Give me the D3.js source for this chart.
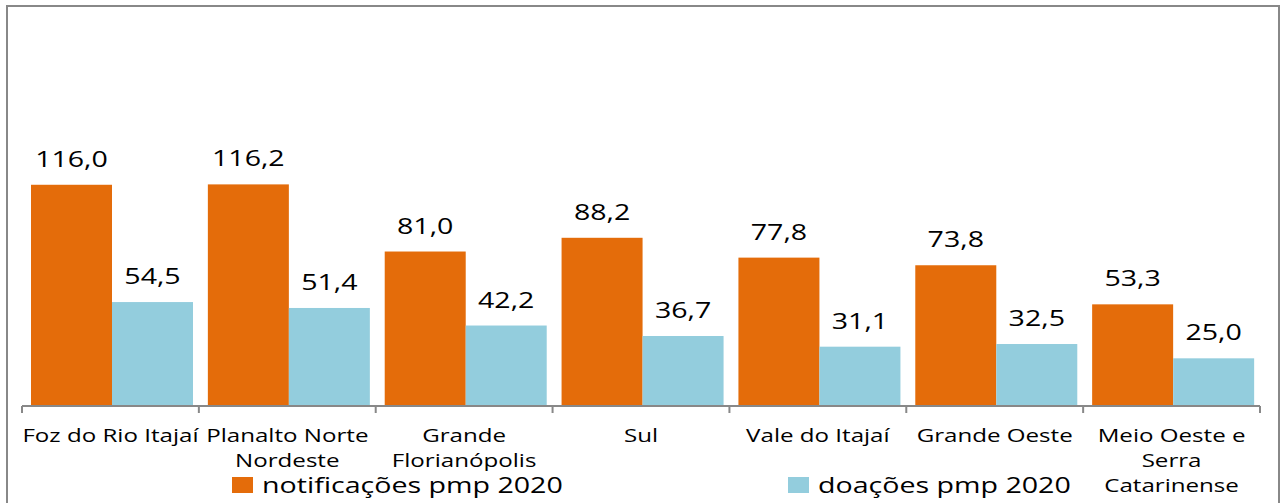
<!DOCTYPE html>
<html>
<head>
<meta charset="utf-8">
<script src="https://cdn.jsdelivr.net/npm/d3@7"></script>
<style>
  html, body { margin: 0; padding: 0; background: #fff; }
  svg { display: block; font-family: "Open Sans", "Noto Sans", sans-serif; }
</style>
</head>
<body>
<div id="chart"></div>
<script>
// chart data
const categories = ["Foz do Rio Itajaí", "Planalto Norte Nordeste", "Grande Florianópolis", "Sul", "Vale do Itajaí", "Grande Oeste", "Meio Oeste e Serra Catarinense"];
const categoryLines = [["Foz do Rio Itajaí"], ["Planalto Norte", "Nordeste"], ["Grande", "Florianópolis"], ["Sul"], ["Vale do Itajaí"], ["Grande Oeste"], ["Meio Oeste e", "Serra", "Catarinense"]];
const seriesNames = ["notificações pmp 2020", "doações pmp 2020"];
const notificacoes = [116.0, 116.2, 81.0, 88.2, 77.8, 73.8, 53.3];
const doacoes = [54.5, 51.4, 42.2, 36.7, 31.1, 32.5, 25.0];
const colors = ["#E46C0A", "#93CDDD"];

const width = 1285, height = 503;
const svg = d3.select('#chart').append('svg')
    .attr('width', width)
    .attr('height', height);

// outer frame
svg.append('rect')
    .attr('x', 7).attr('y', 6)
    .attr('width', 1272).attr('height', 500)
    .attr('fill', 'none')
    .attr('stroke', '#888')
    .attr('stroke-width', 2);

const x0 = d3.scaleBand().domain(categories).range([22, 1260]);
const x1 = d3.scaleBand().domain(seriesNames).range([9, 171]);
const y = d3.scaleLinear().domain([0, 140]).range([406, 139]);

const rows = categories.map((c, i) => ({cat: c, vals: [notificacoes[i], doacoes[i]]}));

const groups = svg.append('g').selectAll('g')
    .data(rows)
    .enter().append('g')
    .attr('transform', d => `translate(${x0(d.cat)},0)`);

groups.selectAll('rect')
    .data(d => d.vals.map((v, j) => ({name: seriesNames[j], v: v, j: j})))
    .enter().append('rect')
    .attr('x', d => x1(d.name))
    .attr('y', d => y(d.v))
    .attr('width', x1.bandwidth())
    .attr('height', d => y(0) - y(d.v))
    .attr('fill', d => colors[d.j]);

// value labels (text is stretched wide in the original)
groups.selectAll('text.val')
    .data(d => d.vals.map((v, j) => ({name: seriesNames[j], v: v})))
    .enter().append('text')
    .attr('class', 'val')
    .attr('transform', d => `translate(${x1(d.name) + x1.bandwidth() / 2},${y(d.v) - 18}) scale(1.36,1)`)
    .attr('text-anchor', 'middle')
    .attr('font-size', 21)
    .attr('fill', '#000')
    .text(d => d.v.toFixed(1).replace('.', ','));

// x axis
const axis = svg.append('g').attr('transform', 'translate(0,406)');
axis.append('line')
    .attr('x1', 22).attr('x2', 1260)
    .attr('stroke', '#888').attr('stroke-width', 2);
const tickPos = categories.map(c => x0(c)).concat([x0.range()[1]]);
axis.selectAll('line.tick')
    .data(tickPos)
    .enter().append('line')
    .attr('class', 'tick')
    .attr('x1', d => d).attr('x2', d => d)
    .attr('y1', 0).attr('y2', 7)
    .attr('stroke', '#888').attr('stroke-width', 2);

axis.selectAll('text.cat')
    .data(categories)
    .enter().append('text')
    .attr('class', 'cat')
    .attr('transform', d => `translate(${x0(d) + x0.bandwidth() / 2},36) scale(1.27,1)`)
    .attr('text-anchor', 'middle')
    .attr('font-size', 19)
    .attr('fill', '#000')
    .each(function(d, i) {
        const t = d3.select(this);
        categoryLines[i].forEach((line, k) => {
            t.append('tspan')
                .attr('x', 0)
                .attr('dy', k === 0 ? 0 : 25)
                .text(line);
        });
    });

// legend
const legendX = [232, 788];
const legend = svg.append('g').selectAll('g')
    .data(seriesNames)
    .enter().append('g')
    .attr('transform', (d, i) => `translate(${legendX[i]},477)`);
legend.append('rect')
    .attr('width', 21).attr('height', 16)
    .attr('fill', (d, i) => colors[i]);
legend.append('text')
    .attr('transform', 'translate(30,16) scale(1.3,1)')
    .attr('font-size', 22)
    .attr('fill', '#000')
    .text(d => d);
</script>
</body>
</html>
